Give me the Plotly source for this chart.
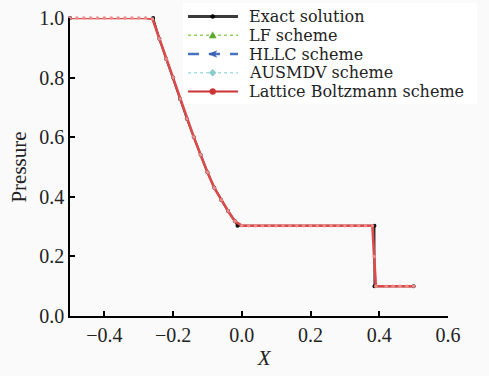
import plotly.graph_objects as go

# Exact Riemann solution (Sod shock tube), pressure profile
x_exact = [-0.50, -0.258, -0.24, -0.22, -0.20, -0.18, -0.16, -0.14, -0.12,
           -0.10, -0.08, -0.06, -0.04, -0.02, -0.0125, 0.386, 0.386, 0.50]
p_exact = [1.000, 1.000, 0.930, 0.862, 0.800, 0.728, 0.662, 0.601, 0.541,
           0.482, 0.430, 0.389, 0.352, 0.318, 0.303, 0.303, 0.100, 0.100]

# Numerical solutions on the computational grid
x_num = [-0.50, -0.48, -0.46, -0.44, -0.42, -0.40, -0.38, -0.36, -0.34, -0.32,
         -0.30, -0.28, -0.26, -0.24, -0.22, -0.20, -0.18, -0.16, -0.14, -0.12,
         -0.10, -0.08, -0.06, -0.04, -0.02, 0.00, 0.02, 0.04, 0.06, 0.08,
         0.10, 0.12, 0.14, 0.16, 0.18, 0.20, 0.22, 0.24, 0.26, 0.28,
         0.30, 0.32, 0.34, 0.36, 0.38, 0.385, 0.39, 0.42, 0.44, 0.46,
         0.48, 0.50]
p_num = [1.000, 1.000, 1.000, 1.000, 1.000, 1.000, 1.000, 1.000, 1.000, 1.000,
         1.000, 1.000, 0.997, 0.930, 0.862, 0.800, 0.728, 0.662, 0.601, 0.541,
         0.482, 0.430, 0.389, 0.352, 0.318, 0.303, 0.303, 0.303, 0.303, 0.303,
         0.303, 0.303, 0.303, 0.303, 0.303, 0.303, 0.303, 0.303, 0.303, 0.303,
         0.303, 0.303, 0.303, 0.303, 0.303, 0.200, 0.100, 0.100, 0.100, 0.100,
         0.100, 0.100]

x_ticks = [-0.4, -0.2, 0.0, 0.2, 0.4, 0.6]
y_ticks = [0.0, 0.2, 0.4, 0.6, 0.8, 1.0]

series_names = ["Exact solution", "LF scheme", "HLLC scheme",
                "AUSMDV scheme", "Lattice Boltzmann scheme"]

SERIF = "Liberation Serif"
LEGEND_FONT = "DejaVu Serif"
TEXT = "#222222"

# per-series legend styling: line colour, width, dash, marker colour, marker kind
styles = [
    dict(color="#3a3a3a", width=3.0, dash="solid", mcolor="#000000", mk="circle", ms=2.0),
    dict(color="#8fd060", width=1.5, dash="dot", mcolor="#5aaa30", mk="triangle", ms=3.5),
    dict(color="#4a72c4", width=2.5, dash="11px,10px", mcolor="#3a62b4", mk="arrow", ms=4.0),
    dict(color="#a9dcdc", width=1.5, dash="dot", mcolor="#88cccc", mk="diamond", ms=3.5),
    dict(color="#cc3333", width=2.0, dash="solid", mcolor="#cc3333", mk="circle", ms=3.0),
]

fig = go.Figure()

fig.add_trace(go.Scatter(
    x=x_exact, y=p_exact, name=series_names[0], mode="lines+markers",
    line=dict(color="#2b2b2b", width=2),
    marker=dict(color="#111111", size=4), cliponaxis=False))
fig.add_trace(go.Scatter(
    x=x_num, y=p_num, name=series_names[1], mode="lines",
    line=dict(color="#77c043", width=1.2, dash="dot"), cliponaxis=False))
fig.add_trace(go.Scatter(
    x=x_num, y=p_num, name=series_names[2], mode="lines",
    line=dict(color="#4a72c4", width=1.5, dash="dash"), cliponaxis=False))
fig.add_trace(go.Scatter(
    x=x_num, y=p_num, name=series_names[3], mode="lines",
    line=dict(color="#a8dcdc", width=1.2, dash="dot"), cliponaxis=False))
fig.add_trace(go.Scatter(
    x=x_num, y=p_num, name=series_names[4], mode="lines+markers",
    line=dict(color="#dc4a4a", width=2.6),
    marker=dict(color="#ee8c8c", size=3.5), cliponaxis=False))

axis_common = dict(
    showline=True, linecolor="black", linewidth=1.5,
    ticks="inside", ticklen=5, tickwidth=1.5, tickcolor="black",
    showgrid=False, zeroline=False, mirror=False, automargin=False,
    tickfont=dict(family=SERIF, size=20, color=TEXT),
)

fig.update_xaxes(
    range=[-0.5, 0.6], tickvals=x_ticks, tickformat=".1f",
    title=dict(text="&nbsp;&nbsp;<i>X</i>", font=dict(family=SERIF, size=21, color=TEXT), standoff=6),
    **axis_common)
fig.update_yaxes(
    range=[0.0, 1.0], tickvals=y_ticks, tickformat=".1f",
    title=dict(text="Pressure", font=dict(family=SERIF, size=21, color=TEXT), standoff=7),
    **axis_common)

# Compact legend drawn in paper coordinates (tight row spacing)
shapes = [dict(type="rect", xref="paper", yref="paper", x0=0.299, x1=1.077,
               y0=0.711, y1=1.050, fillcolor="#ffffff", line=dict(width=0),
               layer="below")]
annotations = []
row_y = [1.005, 0.942, 0.879, 0.816, 0.753]
sx0, sx1, smid, tx = 0.3122, 0.4444, 0.3775, 0.4709
for name, st, ry in zip(series_names, styles, row_y):
    shapes.append(dict(type="line", xref="paper", yref="paper",
                       x0=sx0, x1=sx1, y0=ry, y1=ry,
                       line=dict(color=st["color"], width=st["width"], dash=st["dash"])))
    s = st["ms"]
    common = dict(xref="paper", yref="paper", xsizemode="pixel", ysizemode="pixel",
                  xanchor=smid, yanchor=ry, fillcolor=st["mcolor"],
                  line=dict(color=st["mcolor"], width=0.5))
    if st["mk"] == "circle":
        shapes.append(dict(type="circle", x0=-s, x1=s, y0=-s, y1=s, **common))
    elif st["mk"] == "triangle":
        shapes.append(dict(type="path", path=f"M {-s} {-s*0.8} L {s} {-s*0.8} L 0 {s} Z", **common))
    elif st["mk"] == "arrow":
        shapes.append(dict(type="path", path=f"M {-s} 0 L {s} {s*0.8} L {s*0.5} 0 L {s} {-s*0.8} Z", **common))
    else:
        shapes.append(dict(type="path", path=f"M 0 {s} L {s} 0 L 0 {-s} L {-s} 0 Z", **common))
    annotations.append(dict(xref="paper", yref="paper", x=tx, y=ry,
                            xanchor="left", yanchor="middle", showarrow=False,
                            borderpad=0, valign="middle",
                            text=name, font=dict(family=LEGEND_FONT, size=16, color=TEXT)))

fig.update_layout(
    width=489, height=376,
    margin=dict(l=70, r=41, t=18, b=60),
    paper_bgcolor="#fafafa", plot_bgcolor="#fafafa",
    showlegend=False,
    shapes=shapes,
    annotations=annotations,
)

fig.write_html("out.html")
